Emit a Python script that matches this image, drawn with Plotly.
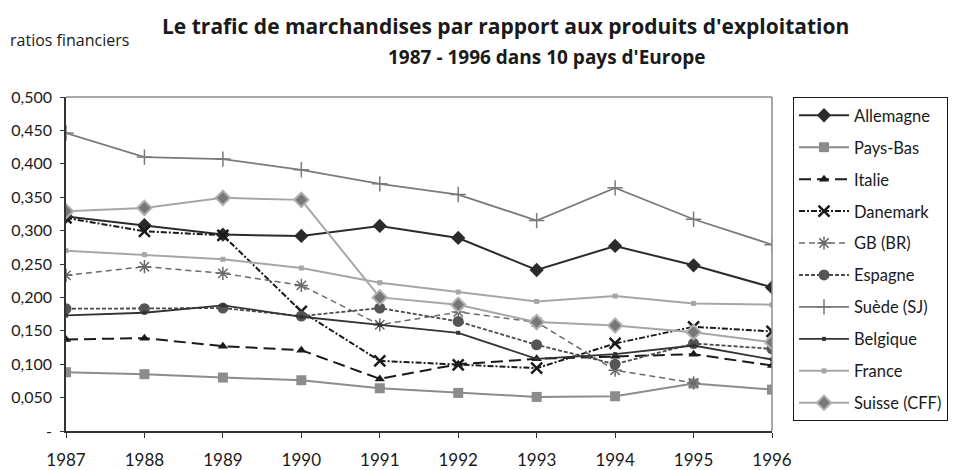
import plotly.graph_objects as go

years = [1987, 1988, 1989, 1990, 1991, 1992, 1993, 1994, 1995, 1996]

allemagne = [0.321, 0.308, 0.294, 0.292, 0.307, 0.289, 0.241, 0.277, 0.248, 0.215]
pays_bas = [0.088, 0.085, 0.080, 0.076, 0.064, 0.057, 0.051, 0.052, 0.071, 0.062]
italie = [0.137, 0.139, 0.127, 0.121, 0.078, 0.100, 0.108, 0.112, 0.115, 0.098]
danemark = [0.319, 0.299, 0.293, 0.179, 0.105, 0.099, 0.094, 0.131, 0.156, 0.149]
gb_br = [0.233, 0.246, 0.236, 0.218, 0.159, 0.178, 0.163, 0.091, 0.072, None]
espagne = [0.183, 0.183, 0.184, 0.172, 0.184, 0.164, 0.129, 0.100, 0.131, 0.123]
suede = [0.446, 0.410, 0.407, 0.391, 0.370, 0.354, 0.315, 0.364, 0.317, 0.279]
belgique = [0.173, 0.177, 0.188, 0.171, 0.159, 0.147, 0.108, 0.115, 0.128, 0.107]
france = [0.270, 0.264, 0.257, 0.244, 0.222, 0.208, 0.194, 0.202, 0.191, 0.189]
suisse = [0.329, 0.334, 0.349, 0.346, 0.200, 0.189, 0.163, 0.158, 0.148, 0.133]

y_ticks = [0, 0.05, 0.10, 0.15, 0.20, 0.25, 0.30, 0.35, 0.40, 0.45, 0.50]
y_labels = ["-", "0,050", "0,100", "0,150", "0,200", "0,250", "0,300", "0,350", "0,400", "0,450", "0,500"]

series = [
    ("Allemagne", allemagne, dict(color="#2b2b2b", width=2, dash="solid"),
     dict(symbol="diamond", size=11, color="#2b2b2b")),
    ("Pays-Bas", pays_bas, dict(color="#8c8c8c", width=2, dash="solid"),
     dict(symbol="square", size=10, color="#8c8c8c")),
    ("Italie", italie, dict(color="#1a1a1a", width=2, dash="12px,6px"),
     dict(symbol="triangle-up", size=9, color="#1a1a1a")),
    ("Danemark", danemark, dict(color="#1a1a1a", width=2, dash="6px,2px,2px,2px"),
     dict(symbol="x-thin-open", size=11, line=dict(color="#1a1a1a", width=2.5))),
    ("GB (BR)", gb_br, dict(color="#6a6a6a", width=1.5, dash="6px,4px"),
     dict(symbol="asterisk-open", size=11, line=dict(color="#6a6a6a", width=1.5))),
    ("Espagne", espagne, dict(color="#4a4a4a", width=1.8, dash="4px,2px"),
     dict(symbol="circle", size=11, color="#555555")),
    ("Suède (SJ)", suede, dict(color="#7a7a7a", width=1.8, dash="solid"),
     dict(symbol="cross-thin-open", size=11, line=dict(color="#7a7a7a", width=1.5))),
    ("Belgique", belgique, dict(color="#333333", width=1.8, dash="solid"),
     dict(symbol="square", size=4, color="#333333")),
    ("France", france, dict(color="#a6a6a6", width=2, dash="solid"),
     dict(symbol="square", size=5, color="#a6a6a6")),
    ("Suisse (CFF)", suisse, dict(color="#a6a6a6", width=2, dash="solid"),
     dict(symbol="diamond", size=11, color="#777777", line=dict(color="#b0b0b0", width=2))),
]

fig = go.Figure()
for i, (name, vals, line, marker) in enumerate(series):
    fig.add_trace(go.Scatter(
        x=years, y=vals, name=name, mode="lines+markers",
        line=line, marker=marker, legendgroup=f"g{i}",
        connectgaps=False,
    ))

FONT = "Lato"
# page body has an 8px margin: figure sized/offset accordingly
fig.update_layout(
    template="none",
    width=951, height=462,
    margin=dict(l=58, r=187, t=89, b=39, autoexpand=False),
    paper_bgcolor="white", plot_bgcolor="white",
    font=dict(family=FONT, color="#1a1a1a"),
    showlegend=True,
    legend=dict(
        x=(793 - 66) / 706, xanchor="left", y=1.0, yanchor="top",
        bordercolor="#1a1a1a", borderwidth=1,
        font=dict(size=16.5, family=FONT, color="#1a1a1a"),
        itemwidth=50, tracegroupgap=7.5,
        traceorder="grouped",
    ),
    xaxis=dict(
        automargin=False,
        range=[1987, 1996], tickmode="array", tickvals=years,
        ticktext=[str(y) for y in years],
        showgrid=False, zeroline=False,
        showline=True, linecolor="#333333", linewidth=1.5,
        ticks="outside", ticklen=5, tickcolor="#333333",
        tickfont=dict(size=17, family=FONT, color="#1a1a1a"),
        ticklabelstandoff=8,
    ),
    yaxis=dict(
        automargin=False,
        range=[0, 0.5], tickmode="array", tickvals=y_ticks, ticktext=y_labels,
        showgrid=False, zeroline=False,
        showline=True, linecolor="#333333", linewidth=1.5,
        ticks="outside", ticklen=4, tickcolor="#333333",
        tickfont=dict(size=16, family=FONT, color="#1a1a1a"),
        ticklabelstandoff=5,
    ),
    shapes=[
        dict(type="line", xref="paper", yref="paper", x0=0, x1=1, y0=1, y1=1,
             line=dict(color="#8c8c8c", width=1.5)),
        dict(type="line", xref="paper", yref="paper", x0=1, x1=1, y0=0, y1=1,
             line=dict(color="#8c8c8c", width=1.5)),
    ],
    annotations=[
        dict(text="<b>Le trafic de marchandises par rapport aux produits d'exploitation</b>",
             xref="paper", yref="paper", x=0.623, y=1.213, xanchor="center", yanchor="middle",
             showarrow=False, font=dict(size=21, family="Open Sans", color="#1a1a1a")),
        dict(text="<b>1987 - 1996 dans 10 pays d'Europe</b>",
             xref="paper", yref="paper", x=0.68, y=1.12, xanchor="center", yanchor="middle",
             showarrow=False, font=dict(size=19, family="Open Sans", color="#1a1a1a")),
        dict(text="ratios financiers",
             xref="paper", yref="paper", x=-0.082, y=1.171, xanchor="left", yanchor="middle",
             showarrow=False, font=dict(size=16, family="Open Sans", color="#1a1a1a")),
    ],
)

fig.write_html("out.html")
